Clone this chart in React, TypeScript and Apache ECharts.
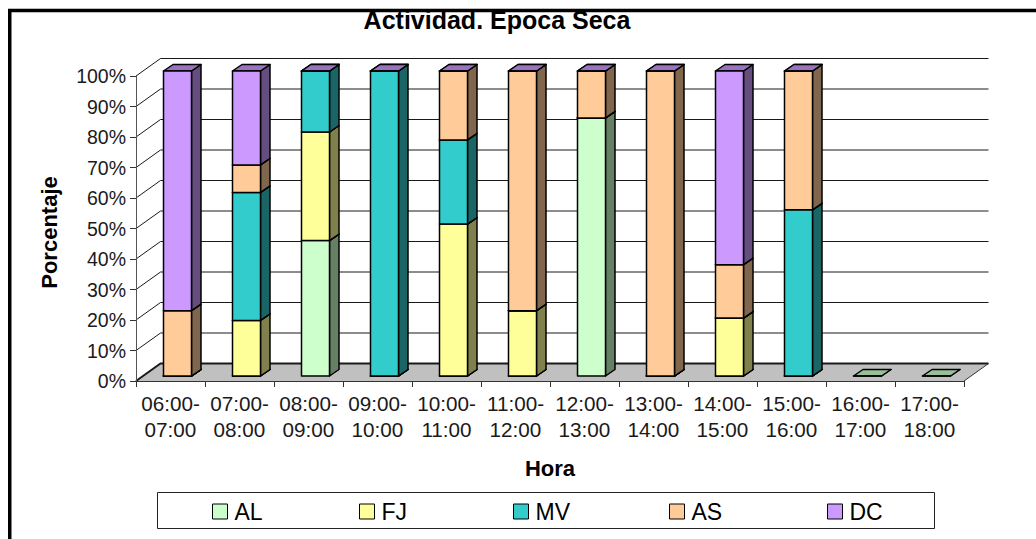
import React, { useEffect, useRef } from "react";
import * as echarts from "echarts";

const categories = ["06:00-\n07:00","07:00-\n08:00","08:00-\n09:00","09:00-\n10:00","10:00-\n11:00","11:00-\n12:00","12:00-\n13:00","13:00-\n14:00","14:00-\n15:00","15:00-\n16:00","16:00-\n17:00","17:00-\n18:00"];
const yTicks = [0,10,20,30,40,50,60,70,80,90,100];
const seriesNames = ["AL","FJ","MV","AS","DC"];
const AL = [0,0,44.4,0,0,0,84.6,0,0,0,0,0];
const FJ = [0,18.2,35.6,0,49.8,21.4,0,0,19,0,null,null];
const MV = [0,42,20,100,27.6,0,0,0,0,54.5,null,null];
const AS = [21.4,9,0,0,22.6,78.6,15.4,100,17.5,45.5,null,null];
const DC = [78.6,30.8,0,0,0,0,0,0,63.5,0,null,null];
const seriesValues = [AL,FJ,MV,AS,DC];
const colors = ["#CCFFCC","#FFFF99","#33CCCC","#FFCC99","#CC99FF"];

const FONT = "Liberation Sans";
const LEFT = 136, RIGHT_X = 964, TOP = 76, BOTTOM = 381;
const DEPTH_X = 24.5, DEPTH_Y = 17.5;
const BAR_W = 28, BAR_SHIFT_X = 7, BAR_SHIFT_Y = 5, BAR_DX = 9.5, BAR_DY = 6.5;
const legendLeft = [212, 359, 513, 669, 827];

function shade(hex: string, k: number) {
  const n = parseInt(hex.slice(1), 16);
  const c = [(n >> 16) & 255, (n >> 8) & 255, n & 255].map((v) => Math.round(v * k));
  return `rgb(${c.join(",")})`;
}

function wallItem(params: any, api: any) {
  const v = api.value(0);
  const [, y] = api.coord([0, v]);
  const children: any[] = [];
  if (v === 0) {
    children.push({
      type: "polygon",
      shape: { points: [[LEFT, y],[LEFT + DEPTH_X, y - DEPTH_Y],[RIGHT_X + DEPTH_X, y - DEPTH_Y],[RIGHT_X, y]] },
      style: { fill: "#C0C0C0", stroke: "none" },
    });
  }
  children.push({
    type: "polyline",
    shape: { points: [[LEFT, y],[LEFT + DEPTH_X, y - DEPTH_Y],[RIGHT_X + DEPTH_X, y - DEPTH_Y]] },
    style: { fill: "none", stroke: "#1a1a1a", lineWidth: v === 0 ? 2 : 1 },
  });
  if (v === 0) {
    children.push({
      type: "line",
      shape: { x1: RIGHT_X, y1: y, x2: RIGHT_X + DEPTH_X, y2: y - DEPTH_Y },
      style: { stroke: "#333", lineWidth: 1 },
    });
  }
  return { type: "group", children };
}

function barItem(color: string) {
  return (params: any, api: any) => {
    const cat = api.value(0);
    const [cx, y0] = api.coord([cat, api.value(1)]);
    const [, y1] = api.coord([cat, api.value(2)]);
    const x = cx + BAR_SHIFT_X - BAR_W / 2;
    const yb = y0 - BAR_SHIFT_Y;
    const yt = y1 - BAR_SHIFT_Y;
    const line = { stroke: "#000", lineWidth: 1.5, lineJoin: "round" };
    return {
      type: "group",
      children: [
        { type: "polygon", shape: { points: [[x + BAR_W, yb],[x + BAR_W + BAR_DX, yb - BAR_DY],[x + BAR_W + BAR_DX, yt - BAR_DY],[x + BAR_W, yt]] }, style: { fill: shade(color, 0.5), ...line } },
        { type: "polygon", shape: { points: [[x, yt],[x + BAR_DX, yt - BAR_DY],[x + BAR_W + BAR_DX, yt - BAR_DY],[x + BAR_W, yt]] }, style: { fill: shade(color, 0.75), ...line } },
        { type: "rect", shape: { x, y: yt, width: BAR_W, height: yb - yt }, style: { fill: color, ...line } },
      ],
    };
  };
}

export default function App() {
  const ref = useRef<HTMLDivElement>(null);
  useEffect(() => {
    document.body.style.margin = "0";
    const chart = echarts.init(ref.current!, undefined, { renderer: "svg" });
    const running = categories.map(() => 0);
    const barSeries = seriesNames.map((name, s) => {
      const data: any[] = [];
      seriesValues[s].forEach((v, c) => {
        if (v === null) return;
        data.push([c, running[c], running[c] + v]);
        running[c] += v;
      });
      return {
        type: "custom", name, renderItem: barItem(colors[s]), data, clip: false, z: 3,
        itemStyle: { color: colors[s] }, encode: { x: 0, y: [1, 2] },
      };
    });
    chart.setOption({
      animation: false,
      backgroundColor: "#fff",
      textStyle: { fontFamily: FONT, color: "#000" },
      grid: { left: LEFT, top: TOP, width: RIGHT_X - LEFT, height: BOTTOM - TOP, containLabel: false },
      title: { text: "Actividad. Epoca Seca", left: 497, top: 7, textAlign: "center", textStyle: { fontFamily: FONT, fontSize: 25, fontWeight: "bold", color: "#000" }, padding: 0, z: 1 },
      xAxis: {
        type: "category", data: categories, z: 5,
        name: "Hora", nameLocation: "middle", nameGap: 76,
        nameTextStyle: { fontFamily: FONT, fontSize: 22, fontWeight: "bold", color: "#000" },
        axisLine: { lineStyle: { color: "#333", width: 1 } },
        axisTick: { show: true, length: 6, lineStyle: { color: "#333" } },
        axisLabel: { interval: 0, fontFamily: FONT, fontSize: 20.7, color: "#1a1a1a", lineHeight: 26, margin: 9 },
        splitLine: { show: false },
      },
      yAxis: {
        type: "value", min: 0, max: 100, interval: 10, z: 5,
        name: "Porcentaje", nameLocation: "middle", nameGap: 76, nameRotate: 90,
        nameTextStyle: { fontFamily: FONT, fontSize: 22, fontWeight: "bold", color: "#000", padding: [0, 8, 0, 0] },
        axisLine: { show: true, lineStyle: { color: "#555", width: 1 } },
        axisTick: { show: true, length: 6, lineStyle: { color: "#333" } },
        axisLabel: { fontFamily: FONT, fontSize: 19.5, color: "#1a1a1a", margin: 10, formatter: "{value}%" },
        splitLine: { show: false },
      },
      legend: seriesNames.map((name, i) => ({
        data: [name], left: legendLeft[i], top: 500, icon: "rect", itemWidth: 15, itemHeight: 15, itemGap: 8,
        padding: 0, selectedMode: false, itemStyle: { borderColor: "#000", borderWidth: 1 },
        textStyle: { fontFamily: FONT, fontSize: 23, color: "#000", padding: [0, 0, 0, 2] },
      })),
      graphic: [
        { type: "rect", silent: true, z: 0, shape: { x: 157.5, y: 492.5, width: 777, height: 36 }, style: { fill: "#fff", stroke: "#222", lineWidth: 1 } },
        { type: "rect", silent: true, z: 10, shape: { x: 8, y: 8, width: 1028, height: 1 }, style: { fill: "#bbb" } },
        { type: "rect", silent: true, z: 10, shape: { x: 8, y: 9, width: 1028, height: 3.3 }, style: { fill: "#000" } },
        { type: "rect", silent: true, z: 10, shape: { x: 8, y: 9, width: 3.5, height: 530 }, style: { fill: "#000" } },
      ],
      series: [
        { type: "custom", name: "wall", renderItem: wallItem, data: yTicks.map((v) => [v]), clip: false, z: 1, encode: { y: 0 }, silent: true },
        ...barSeries,
      ],
    });
    return () => chart.dispose();
  }, []);
  return <div ref={ref} style={{ width: 1036, height: 539, position: "absolute", left: 0, top: 0 }} />;
}
